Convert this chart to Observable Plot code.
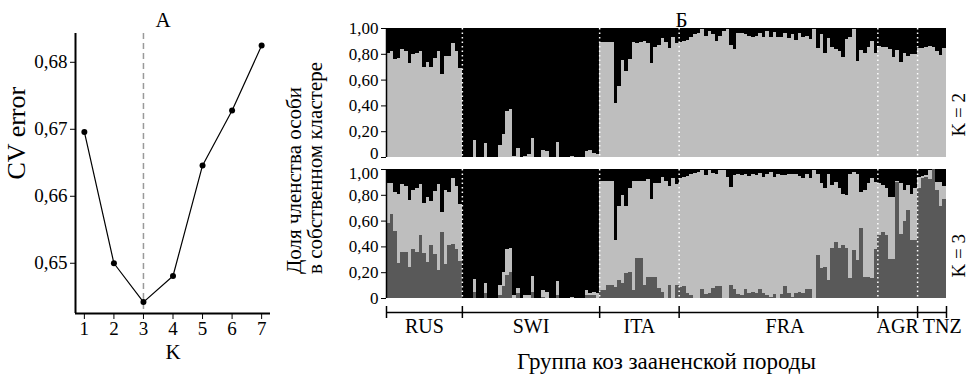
<!DOCTYPE html>
<html>
<head>
<meta charset="utf-8">
<script src="https://cdn.jsdelivr.net/npm/d3@7"></script>
<script src="https://cdn.jsdelivr.net/npm/@observablehq/plot@0.6"></script>
<style>
html, body { margin: 0; padding: 0; background: #fff; }
#chart { position: relative; width: 968px; height: 378px; overflow: hidden; background: #fff;
  font-family: "Liberation Serif", "Times New Roman", serif; color: #000; }
#chart svg { position: absolute; overflow: visible; }
#ylabB { position: absolute; left: 284px; top: 274px; transform: rotate(-90deg); transform-origin: 0 0;
  white-space: nowrap; font-size: 21px; line-height: 21px; text-align: left; }
</style>
</head>
<body>
<div id="chart"><div id="ylabB">Доля членства особи<br>в собственном кластере</div></div>
<script>
// ---------- Panel A: CV error by K ----------
const kValues = [1, 2, 3, 4, 5, 6, 7];
const cvError = [0.6696, 0.6500, 0.6442, 0.6481, 0.6646, 0.6728, 0.6825];
const cvTicks = [0.65, 0.66, 0.67, 0.68];
const bestK = 3;

// ---------- Panel B: admixture proportions ----------
const groups = ["RUS", "SWI", "ITA", "FRA", "AGR", "TNZ"];
const groupSizes = [21, 38, 22, 55, 11, 8];
const shareTicks = [0, 0.2, 0.4, 0.6, 0.8, 1];

// K = 2: share of the light-grey cluster (rest is black)
const k2Light_RUS = [0.81,0.82,0.76,0.77,0.84,0.82,0.73,0.80,0.81,0.82,0.70,0.74,0.70,0.77,0.82,0.64,0.78,0.78,0.88,0.82,0.69];
const k2Light_SWI = [0,0,0,0.13,0,0,0.11,0,0,0,0.09,0.18,0.36,0.37,0.01,0.07,0,0.01,0.02,0.15,0,0,0.055,0.045,0,0,0.12,0,0,0,0.005,0,0,0,0.05,0.055,0.03,0.02];
const k2Light_ITA = [0.89,0.89,0.89,0.89,0.42,0.55,0.755,0.67,0.76,0.89,0.88,0.89,0.90,0.88,0.73,0.855,0.87,0.92,0.89,0.845,0.93,0.886];
const k2Light_FRA = [0.89,0.90,0.91,0.93,0.95,0.96,0.99,0.94,0.98,0.95,0.90,0.94,0.98,0.99,0.87,0.84,0.96,0.96,0.95,0.94,0.93,0.94,0.96,0.93,0.98,0.93,0.97,0.93,0.93,0.96,0.92,0.95,0.91,0.96,0.93,0.94,0.915,0.99,0.845,0.95,0.81,0.92,0.855,0.837,0.824,0.773,0.915,0.93,0.99,0.746,0.83,0.81,0.85,0.90,0.81];
const k2Light_AGR = [0.863,0.85,0.85,0.837,0.778,0.83,0.74,0.81,0.785,0.80,0.80];
const k2Light_TNZ = [0.845,0.845,0.85,0.863,0.855,0.82,0.79,0.845];

// K = 3: share of the black cluster (top) and of the dark-grey cluster (bottom); light grey is the rest
const k3Black_RUS = [0.11,0.11,0.18,0.19,0.12,0.13,0.24,0.16,0.15,0.12,0.26,0.22,0.25,0.17,0.12,0.33,0.16,0.18,0.07,0.13,0.27];
const k3Dark_RUS  = [0.58,0.65,0.52,0.27,0.36,0.36,0.24,0.38,0.36,0.49,0.35,0.28,0.41,0.34,0.22,0.51,0.26,0.41,0.42,0.38,0.29];
const k3Black_SWI = [1,1,1,0.85,1,1,0.88,1,1,1,0.90,0.80,0.62,0.61,0.98,0.92,1,0.98,0.98,0.83,1,1,0.94,0.95,1,1,0.87,1,1,1,0.995,1,1,1,0.94,0.96,0.95,0.965];
const k3Dark_SWI  = [0,0,0,0.05,0,0,0.036,0,0,0,0.023,0.093,0.178,0.204,0,0.036,0,0,0,0.05,0,0,0.01,0,0,0,0.023,0,0,0,0,0,0,0,0.02,0.02,0.02,0];
const k3Black_ITA = [0.09,0.09,0.09,0.09,0.55,0.29,0.20,0.29,0.15,0.09,0.09,0.09,0.09,0.08,0.235,0.11,0.11,0.06,0.09,0.13,0.07,0.12];
const k3Dark_ITA  = [0.06,0.06,0.10,0.10,0.085,0.14,0.12,0.19,0.205,0.06,0.31,0.31,0.10,0.165,0.165,0.165,0.074,0.05,0,0.10,0,0.10];
const k3Black_FRA = [0.07,0.06,0.055,0.035,0.03,0.02,0.005,0.045,0.01,0.03,0.04,0.005,0.005,0.06,0.14,0.045,0.035,0.045,0.04,0.055,0.035,0.045,0.03,0.06,0.035,0.02,0.06,0.035,0.045,0.045,0.04,0.035,0.035,0.055,0.07,0.035,0.07,0.005,0.035,0.11,0.15,0.035,0.125,0.10,0.15,0.19,0.20,0.035,0.02,0.035,0.175,0.165,0.11,0.07,0.10];
const k3Dark_FRA  = [0.088,0.09,0.04,0.02,0,0,0.07,0.03,0.04,0.08,0.09,0.09,0,0,0.10,0.07,0.03,0.02,0.07,0.04,0.05,0.04,0.07,0.04,0.02,0.01,0.03,0,0.03,0.09,0.04,0.01,0.04,0.05,0.04,0.07,0.07,0,0.33,0.23,0.24,0.14,0.385,0.437,0.385,0.41,0.39,0.153,0.372,0.295,0.54,0.165,0.165,0.153,0.38];
const k3Black_AGR = [0.11,0.125,0.15,0.215,0.215,0.09,0.11,0.165,0.125,0.19,0.15];
const k3Dark_AGR  = [0.49,0.51,0.49,0.30,0.30,0.90,0.50,0.60,0.68,0.45,0.45];
const k3Black_TNZ = [0.06,0.055,0.045,0.01,0,0.10,0.10,0.135];
const k3Dark_TNZ  = [0.85,0.93,0.94,0.92,1.0,0.84,0.71,0.77];

const k2Light = [k2Light_RUS, k2Light_SWI, k2Light_ITA, k2Light_FRA, k2Light_AGR, k2Light_TNZ];
const k3Black = [k3Black_RUS, k3Black_SWI, k3Black_ITA, k3Black_FRA, k3Black_AGR, k3Black_TNZ];
const k3Dark  = [k3Dark_RUS, k3Dark_SWI, k3Dark_ITA, k3Dark_FRA, k3Dark_AGR, k3Dark_TNZ];

// ---------- build tables ----------
const bounds = [0];
groupSizes.forEach(n => bounds.push(bounds[bounds.length - 1] + n));
const nTotal = bounds[bounds.length - 1];
const innerBounds = bounds.slice(1, -1);

const k2Rows = [];
const k3Rows = [];
groups.forEach((g, gi) => {
  for (let j = 0; j < groupSizes[gi]; j++) {
    const i = bounds[gi] + j;
    const q = k2Light[gi][j];
    k2Rows.push({i, cluster: "q2", y1: 0, y2: q});
    k2Rows.push({i, cluster: "q1", y1: q, y2: 1});
    const d = k3Dark[gi][j];
    const top = Math.max(d, 1 - k3Black[gi][j]);
    k3Rows.push({i, cluster: "q3", y1: 0, y2: d});
    k3Rows.push({i, cluster: "q2", y1: d, y2: top});
    k3Rows.push({i, cluster: "q1", y1: top, y2: 1});
  }
});
const groupRows = groups.map((name, k) => ({name, start: bounds[k], end: bounds[k + 1]}));
const cvData = kValues.map((k, i) => ({k, cv: cvError[i]}));

// ---------- styling ----------
const font = {fontFamily: '"Liberation Serif", "Times New Roman", serif', fontSize: "19px",
  background: "transparent", color: "black", overflow: "visible"};
const comma2 = d => d.toFixed(2).replace(".", ",");
const shareFmt = d => d === 0 ? "0" : comma2(d);
const colorScale = {domain: ["q1", "q2", "q3"], range: ["#000000", "#bebebe", "#595959"]};
const ident = d => d;
const xDomB = [0, nTotal];

// y tick labels of a share panel; the label at the edge next to the other panel is nudged away from it
function shareLabels(edgeTick, edgeShift) {
  return [
    Plot.text(shareTicks.filter(t => t !== edgeTick),
      {x: xDomB[0], y: ident, text: shareFmt, textAnchor: "end", dx: -8, fontSize: 17}),
    Plot.text([edgeTick],
      {x: xDomB[0], y: ident, text: shareFmt, textAnchor: "end", dx: -8, dy: edgeShift, fontSize: 17})
  ];
}
const yShare = {domain: [0, 1], ticks: shareTicks, tickSize: 5, tickPadding: 3, tickFormat: () => "", label: null};

const chart = document.getElementById("chart");
function place(svg, left, top) {
  svg.style.position = "absolute";
  svg.style.left = left + "px";
  svg.style.top = top + "px";
  chart.appendChild(svg);
}

// ---------- Panel A ----------
const xDomA = [0.7, 7.3];
const yDomA = [0.6425, 0.6843];
place(Plot.plot({
  width: 300, height: 378,
  marginLeft: 75, marginRight: 30, marginTop: 33, marginBottom: 65,
  style: font,
  x: {domain: xDomA, ticks: kValues, tickSize: 6, tickPadding: 2, tickFormat: d => String(d), label: null},
  y: {domain: yDomA, ticks: cvTicks, tickSize: 5, tickPadding: 3, tickFormat: comma2, label: null},
  marks: [
    Plot.ruleX([bestK], {stroke: "#9a9a9a", strokeWidth: 1.5, strokeDasharray: "6,4"}),
    Plot.ruleX([xDomA[0]], {stroke: "black", strokeWidth: 2}),
    Plot.ruleY([yDomA[0]], {stroke: "black", strokeWidth: 2}),
    Plot.line(cvData, {x: "k", y: "cv", stroke: "black", strokeWidth: 1.2}),
    Plot.dot(cvData, {x: "k", y: "cv", r: 3, fill: "black", stroke: "none"}),
    Plot.text(["А"], {text: ident, frameAnchor: "top", dx: -10, dy: -21, fontSize: 21}),
    Plot.text(["K"], {text: ident, frameAnchor: "bottom", dy: 45, fontSize: 21}),
    Plot.text(["CV error"], {text: ident, frameAnchor: "left", dx: -59, dy: 6, rotate: -90, fontSize: 26})
  ]
}), 0, 0);

// ---------- Panel B, K = 2 ----------
place(Plot.plot({
  width: 968, height: 166,
  marginLeft: 386, marginRight: 22, marginTop: 28, marginBottom: 9,
  style: font,
  x: {domain: xDomB, axis: null},
  y: yShare,
  color: colorScale,
  marks: [
    Plot.rect(k2Rows, {x1: "i", x2: d => d.i + 1, y1: "y1", y2: "y2", fill: "cluster", shapeRendering: "crispEdges"}),
    Plot.ruleX(innerBounds, {stroke: "white", strokeWidth: 1.5, strokeDasharray: "1.5,3"}),
    Plot.ruleX([xDomB[0]], {stroke: "black", strokeWidth: 1.5}),
    ...shareLabels(0, -4),
    Plot.text(["K = 2"], {text: ident, frameAnchor: "right", dx: 12, rotate: -90}),
    Plot.text(["Б"], {text: ident, frameAnchor: "top", dx: 15, dy: -16, fontSize: 21})
  ]
}), 0, 0);

// ---------- Panel B, K = 3 ----------
place(Plot.plot({
  width: 968, height: 220,
  marginLeft: 386, marginRight: 22, marginTop: 11, marginBottom: 80,
  style: font,
  x: {domain: xDomB, axis: null},
  y: yShare,
  color: colorScale,
  marks: [
    Plot.rect(k3Rows, {x1: "i", x2: d => d.i + 1, y1: "y1", y2: "y2", fill: "cluster", shapeRendering: "crispEdges"}),
    Plot.ruleX(innerBounds, {stroke: "white", strokeWidth: 1.5, strokeDasharray: "1.5,3"}),
    Plot.ruleX([xDomB[0]], {stroke: "black", strokeWidth: 1.5}),
    ...shareLabels(1, 4),
    Plot.text(["K = 3"], {text: ident, frameAnchor: "right", dx: 12, rotate: -90})
  ]
}), 0, 158);

// ---------- Group axis ----------
place(Plot.plot({
  width: 968, height: 80,
  marginLeft: 386, marginRight: 22, marginTop: 8, marginBottom: 60,
  style: font,
  x: {domain: xDomB, axis: null},
  y: {domain: [-1, 1], axis: null},
  marks: [
    Plot.ruleY([0], {stroke: "black", strokeWidth: 1.5}),
    Plot.ruleX(bounds, {stroke: "black", strokeWidth: 1.5}),
    Plot.text(groupRows, {
      x: d => (d.start + d.end) / 2 + (d.name === "FRA" ? 1.8 : d.name === "TNZ" ? 2.8 : 0),
      text: "name", frameAnchor: "bottom", dy: 14, fontSize: 20
    }),
    Plot.text(["Группа коз зааненской породы"], {text: ident, frameAnchor: "bottom", dy: 50, fontSize: 23})
  ]
}), 0, 298);
</script>
</body>
</html>
